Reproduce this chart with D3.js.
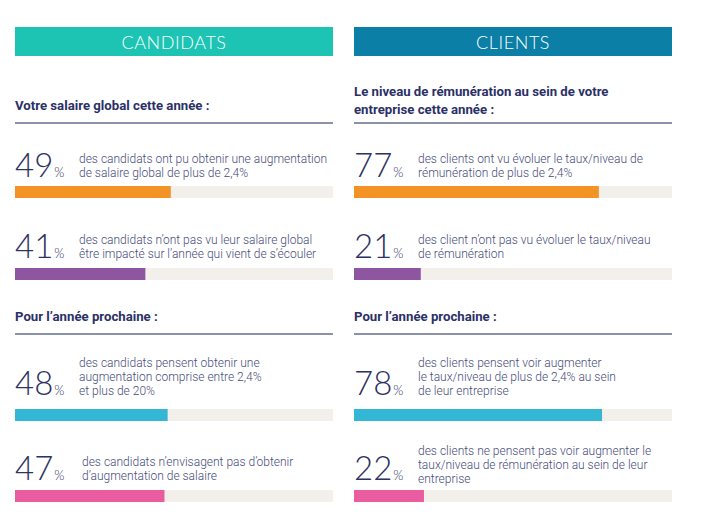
<!DOCTYPE html>
<html>
<head>
<meta charset="utf-8">
<script src="https://cdn.jsdelivr.net/npm/d3@7"></script>
<style>
  body { margin: 0; background: #fff; }
  svg { display: block; }
</style>
</head>
<body>
<script>
// Data
var panels = ["CANDIDATS", "CLIENTS"];
var panelColors = ["#1dc4b4", "#0b7fa6"];

var sectionTitles = [
  [["Votre salaire global cette année :"], ["Pour l\u2019année prochaine :"]],
  [["Le niveau de rémunération au sein de votre", "entreprise cette année :"], ["Pour l\u2019année prochaine :"]]
];

var candidatsValues = [49, 41, 48, 47];
var clientsValues = [77, 21, 78, 22];
var barColors = ["#f39325", "#8e55a1", "#33b7d4", "#e95c9f"];

var candidatsText = [
  ["des candidats ont pu obtenir une augmentation", "de salaire global de plus de 2,4%"],
  ["des candidats n\u2019ont pas vu leur salaire global", "être impacté sur l\u2019année qui vient de s\u2019écouler"],
  ["des candidats pensent obtenir une", "augmentation comprise entre 2,4%", "et plus de 20%"],
  ["des candidats n\u2019envisagent pas d\u2019obtenir", "d\u2019augmentation de salaire"]
];
var clientsText = [
  ["des clients ont vu évoluer le taux/niveau de", "rémunération de plus de 2,4%"],
  ["des client n\u2019ont pas vu évoluer le taux/niveau", "de rémunération"],
  ["des clients pensent voir augmenter", "le taux/niveau de plus de 2,4% au sein", "de leur entreprise"],
  ["des clients ne pensent pas voir augmenter le", "taux/niveau de rémunération au sein de leur", "entreprise"]
];

var values = [candidatsValues, clientsValues];
var texts = [candidatsText, clientsText];

// Layout
var WIDTH = 712, HEIGHT = 529;
var colX = [15, 354];
var colW = 318;
var barY = [186, 268, 409, 490];
var numGap = [9, 10, 14, 10];
var barH = 12;
var ruleY = [123, 334];

var svg = d3.select("body").append("svg")
    .attr("width", WIDTH).attr("height", HEIGHT);

var x = d3.scaleLinear().domain([0, 100]).range([0, colW]);

panels.forEach(function(name, p) {
    var g = svg.append("g").attr("transform", "translate(" + colX[p] + ",0)");

    // header
    g.append("rect")
        .attr("x", 0).attr("y", 27)
        .attr("width", colW).attr("height", 29)
        .attr("fill", panelColors[p]);
    g.append("text")
        .attr("x", colW / 2).attr("y", 49)
        .attr("text-anchor", "middle")
        .attr("font-family", "Lato, 'Open Sans', sans-serif")
        .attr("font-size", "18px")
        .attr("font-weight", 300)
        .attr("letter-spacing", "0.6px")
        .attr("fill", "#fff")
        .text(name);

    // section titles + rules
    sectionTitles[p].forEach(function(lines, s) {
        var last = ruleY[s] - 13;
        if (lines.length > 1) last = ruleY[s] - 9;
        lines.forEach(function(line, i) {
            g.append("text")
                .attr("x", 0)
                .attr("y", last - (lines.length - 1 - i) * 18)
                .attr("font-family", "Roboto, sans-serif")
                .attr("font-size", "13.2px")
                .attr("font-weight", 700)
                .attr("fill", "#2b3067")
                .text(line);
        });
        g.append("line")
            .attr("x1", 0).attr("x2", colW)
            .attr("y1", ruleY[s]).attr("y2", ruleY[s])
            .attr("stroke", "#8c91ab")
            .attr("stroke-width", 2);
    });

    // rows
    values[p].forEach(function(v, r) {
        var by = barY[r];
        var numBase = by - numGap[r];

        g.append("rect")
            .attr("x", 0).attr("y", by)
            .attr("width", x(100)).attr("height", barH)
            .attr("fill", "#f3f0ec");
        g.append("rect")
            .attr("x", 0).attr("y", by)
            .attr("width", x(v)).attr("height", barH)
            .attr("fill", barColors[r]);

        var num = g.append("text")
            .attr("x", 0).attr("y", numBase)
            .attr("font-family", "Lato, sans-serif")
            .attr("font-weight", 300)
            .attr("fill", "#2d3263");
        num.append("tspan").attr("font-size", "33px").text(v);
        num.append("tspan").attr("font-size", "13px").attr("dx", 1).text("%");

        var lines = texts[p][r];
        var lh = 14;
        var last = numBase + ((lines.length == 3 && r == 3) ? 3 : 0);
        lines.forEach(function(line, i) {
            g.append("text")
                .attr("x", (p == 0 && r == 3) ? 67 : 64)
                .attr("y", last - (lines.length - 1 - i) * lh)
                .attr("font-family", "Roboto, sans-serif")
                .attr("font-size", "12px")
                .attr("font-weight", 300)
                .attr("fill", "#474c7b")
                .text(line);
        });
    });
});
</script>
</body>
</html>
